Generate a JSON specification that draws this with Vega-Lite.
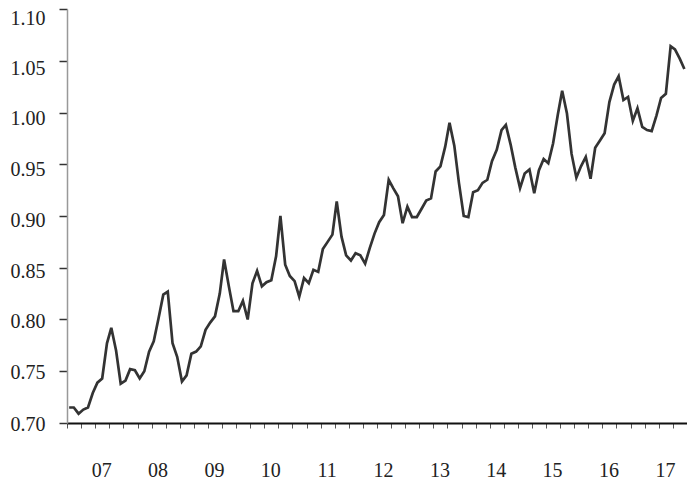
{
  "$schema": "https://vega.github.io/schema/vega-lite/v6.json",
  "width": 620,
  "height": 414,
  "autosize": "none",
  "padding": {"left": 67, "top": 9, "right": 0, "bottom": 60},
  "background": "white",
  "config": {"view": {"stroke": null}},
  "data": {
    "values": [
      {"date": "2006-06-15", "value": 0.715}, {"date": "2006-07-15", "value": 0.715}, {"date": "2006-08-15", "value": 0.709}, {"date": "2006-09-15", "value": 0.713}, {"date": "2006-10-15", "value": 0.715}, {"date": "2006-11-15", "value": 0.729}, {"date": "2006-12-15", "value": 0.739},
      {"date": "2007-01-15", "value": 0.743}, {"date": "2007-02-15", "value": 0.777}, {"date": "2007-03-15", "value": 0.792}, {"date": "2007-04-15", "value": 0.770}, {"date": "2007-05-15", "value": 0.738}, {"date": "2007-06-15", "value": 0.741}, {"date": "2007-07-15", "value": 0.752}, {"date": "2007-08-15", "value": 0.751}, {"date": "2007-09-15", "value": 0.743}, {"date": "2007-10-15", "value": 0.750}, {"date": "2007-11-15", "value": 0.769}, {"date": "2007-12-15", "value": 0.779},
      {"date": "2008-01-15", "value": 0.801}, {"date": "2008-02-15", "value": 0.824}, {"date": "2008-03-15", "value": 0.827}, {"date": "2008-04-15", "value": 0.777}, {"date": "2008-05-15", "value": 0.764}, {"date": "2008-06-15", "value": 0.740}, {"date": "2008-07-15", "value": 0.746}, {"date": "2008-08-15", "value": 0.767}, {"date": "2008-09-15", "value": 0.769}, {"date": "2008-10-15", "value": 0.774}, {"date": "2008-11-15", "value": 0.790}, {"date": "2008-12-15", "value": 0.797},
      {"date": "2009-01-15", "value": 0.803}, {"date": "2009-02-15", "value": 0.825}, {"date": "2009-03-15", "value": 0.858}, {"date": "2009-04-15", "value": 0.832}, {"date": "2009-05-15", "value": 0.808}, {"date": "2009-06-15", "value": 0.808}, {"date": "2009-07-15", "value": 0.818}, {"date": "2009-08-15", "value": 0.800}, {"date": "2009-09-15", "value": 0.835}, {"date": "2009-10-15", "value": 0.847}, {"date": "2009-11-15", "value": 0.832}, {"date": "2009-12-15", "value": 0.836},
      {"date": "2010-01-15", "value": 0.838}, {"date": "2010-02-15", "value": 0.861}, {"date": "2010-03-15", "value": 0.900}, {"date": "2010-04-15", "value": 0.853}, {"date": "2010-05-15", "value": 0.842}, {"date": "2010-06-15", "value": 0.837}, {"date": "2010-07-15", "value": 0.822}, {"date": "2010-08-15", "value": 0.840}, {"date": "2010-09-15", "value": 0.835}, {"date": "2010-10-15", "value": 0.848}, {"date": "2010-11-15", "value": 0.846}, {"date": "2010-12-15", "value": 0.868},
      {"date": "2011-01-15", "value": 0.875}, {"date": "2011-02-15", "value": 0.882}, {"date": "2011-03-15", "value": 0.914}, {"date": "2011-04-15", "value": 0.880}, {"date": "2011-05-15", "value": 0.862}, {"date": "2011-06-15", "value": 0.857}, {"date": "2011-07-15", "value": 0.864}, {"date": "2011-08-15", "value": 0.862}, {"date": "2011-09-15", "value": 0.854}, {"date": "2011-10-15", "value": 0.869}, {"date": "2011-11-15", "value": 0.883}, {"date": "2011-12-15", "value": 0.894},
      {"date": "2012-01-15", "value": 0.901}, {"date": "2012-02-15", "value": 0.935}, {"date": "2012-03-15", "value": 0.927}, {"date": "2012-04-15", "value": 0.919}, {"date": "2012-05-15", "value": 0.893}, {"date": "2012-06-15", "value": 0.909}, {"date": "2012-07-15", "value": 0.899}, {"date": "2012-08-15", "value": 0.899}, {"date": "2012-09-15", "value": 0.907}, {"date": "2012-10-15", "value": 0.915}, {"date": "2012-11-15", "value": 0.917}, {"date": "2012-12-15", "value": 0.943},
      {"date": "2013-01-15", "value": 0.948}, {"date": "2013-02-15", "value": 0.967}, {"date": "2013-03-15", "value": 0.990}, {"date": "2013-04-15", "value": 0.968}, {"date": "2013-05-15", "value": 0.932}, {"date": "2013-06-15", "value": 0.900}, {"date": "2013-07-15", "value": 0.899}, {"date": "2013-08-15", "value": 0.923}, {"date": "2013-09-15", "value": 0.925}, {"date": "2013-10-15", "value": 0.932}, {"date": "2013-11-15", "value": 0.935}, {"date": "2013-12-15", "value": 0.953},
      {"date": "2014-01-15", "value": 0.964}, {"date": "2014-02-15", "value": 0.983}, {"date": "2014-03-15", "value": 0.988}, {"date": "2014-04-15", "value": 0.969}, {"date": "2014-05-15", "value": 0.947}, {"date": "2014-06-15", "value": 0.927}, {"date": "2014-07-15", "value": 0.941}, {"date": "2014-08-15", "value": 0.945}, {"date": "2014-09-15", "value": 0.922}, {"date": "2014-10-15", "value": 0.944}, {"date": "2014-11-15", "value": 0.955}, {"date": "2014-12-15", "value": 0.951},
      {"date": "2015-01-15", "value": 0.970}, {"date": "2015-02-15", "value": 0.998}, {"date": "2015-03-15", "value": 1.021}, {"date": "2015-04-15", "value": 0.999}, {"date": "2015-05-15", "value": 0.960}, {"date": "2015-06-15", "value": 0.937}, {"date": "2015-07-15", "value": 0.948}, {"date": "2015-08-15", "value": 0.957}, {"date": "2015-09-15", "value": 0.936}, {"date": "2015-10-15", "value": 0.966}, {"date": "2015-11-15", "value": 0.973}, {"date": "2015-12-15", "value": 0.980},
      {"date": "2016-01-15", "value": 1.010}, {"date": "2016-02-15", "value": 1.027}, {"date": "2016-03-15", "value": 1.035}, {"date": "2016-04-15", "value": 1.012}, {"date": "2016-05-15", "value": 1.015}, {"date": "2016-06-15", "value": 0.992}, {"date": "2016-07-15", "value": 1.004}, {"date": "2016-08-15", "value": 0.986}, {"date": "2016-09-15", "value": 0.983}, {"date": "2016-10-15", "value": 0.982}, {"date": "2016-11-15", "value": 0.997}, {"date": "2016-12-15", "value": 1.014},
      {"date": "2017-01-15", "value": 1.018}, {"date": "2017-02-15", "value": 1.064}, {"date": "2017-03-15", "value": 1.061}, {"date": "2017-04-15", "value": 1.052}, {"date": "2017-05-15", "value": 1.042}
    ]
  },
  "mark": {"type": "line", "stroke": "#333333", "strokeWidth": 2.7, "strokeJoin": "miter"},
  "encoding": {
    "x": {
      "field": "date",
      "type": "temporal",
      "scale": {"domain": [{"year": 2006, "month": 6, "date": 1}, {"year": 2017, "month": 6, "date": 1}], "nice": false},
      "axis": {
        "title": null,
        "grid": false,
        "values": [
          {"year": 2006, "month": 6, "date": 1}, {"year": 2006, "month": 9, "date": 1}, {"year": 2006, "month": 12, "date": 1},
          {"year": 2007, "month": 3, "date": 1}, {"year": 2007, "month": 6, "date": 1}, {"year": 2007, "month": 9, "date": 1}, {"year": 2007, "month": 12, "date": 1},
          {"year": 2008, "month": 3, "date": 1}, {"year": 2008, "month": 6, "date": 1}, {"year": 2008, "month": 9, "date": 1}, {"year": 2008, "month": 12, "date": 1},
          {"year": 2009, "month": 3, "date": 1}, {"year": 2009, "month": 6, "date": 1}, {"year": 2009, "month": 9, "date": 1}, {"year": 2009, "month": 12, "date": 1},
          {"year": 2010, "month": 3, "date": 1}, {"year": 2010, "month": 6, "date": 1}, {"year": 2010, "month": 9, "date": 1}, {"year": 2010, "month": 12, "date": 1},
          {"year": 2011, "month": 3, "date": 1}, {"year": 2011, "month": 6, "date": 1}, {"year": 2011, "month": 9, "date": 1}, {"year": 2011, "month": 12, "date": 1},
          {"year": 2012, "month": 3, "date": 1}, {"year": 2012, "month": 6, "date": 1}, {"year": 2012, "month": 9, "date": 1}, {"year": 2012, "month": 12, "date": 1},
          {"year": 2013, "month": 3, "date": 1}, {"year": 2013, "month": 6, "date": 1}, {"year": 2013, "month": 9, "date": 1}, {"year": 2013, "month": 12, "date": 1},
          {"year": 2014, "month": 3, "date": 1}, {"year": 2014, "month": 6, "date": 1}, {"year": 2014, "month": 9, "date": 1}, {"year": 2014, "month": 12, "date": 1},
          {"year": 2015, "month": 3, "date": 1}, {"year": 2015, "month": 6, "date": 1}, {"year": 2015, "month": 9, "date": 1}, {"year": 2015, "month": 12, "date": 1},
          {"year": 2016, "month": 3, "date": 1}, {"year": 2016, "month": 6, "date": 1}, {"year": 2016, "month": 9, "date": 1}, {"year": 2016, "month": 12, "date": 1},
          {"year": 2017, "month": 3, "date": 1}, {"year": 2017, "month": 6, "date": 1}
        ],
        "labelExpr": "month(datum.value) == 11 ? format(year(datum.value) - 1999, '02d') : ''",
        "labelOffset": 6,
        "labelPadding": 32,
        "labelFont": "Liberation Serif",
        "labelFontSize": 20,
        "labelColor": "#222222",
        "labelOverlap": false,
        "labelFlush": false,
        "tickSize": 5,
        "tickColor": "#555555",
        "tickWidth": 1,
        "domainColor": "#111111",
        "domainWidth": 2
      }
    },
    "y": {
      "field": "value",
      "type": "quantitative",
      "scale": {"domain": [0.7, 1.1], "nice": false, "zero": false},
      "axis": {
        "title": null,
        "grid": false,
        "values": [0.7, 0.75, 0.8, 0.85, 0.9, 0.95, 1.0, 1.05, 1.1],
        "format": ".2f",
        "labelFont": "Liberation Serif",
        "labelFontSize": 20,
        "labelColor": "#222222",
        "labelPadding": 14,
        "labelFlush": false,
        "labelOffset": {
          "condition": [
            {"test": "datum.value > 1.07", "value": 9},
            {"test": "datum.value > 1.02", "value": 7.5},
            {"test": "datum.value > 0.97", "value": 5.5},
            {"test": "datum.value > 0.92", "value": 5},
            {"test": "datum.value > 0.87", "value": 4},
            {"test": "datum.value > 0.82", "value": 3.3},
            {"test": "datum.value > 0.77", "value": 2.4},
            {"test": "datum.value > 0.72", "value": 1.5}
          ],
          "value": 1
        },
        "tickSize": 8,
        "tickColor": "#333333",
        "tickWidth": 1.5,
        "domainColor": "#999999",
        "domainWidth": 1.5
      }
    }
  }
}
